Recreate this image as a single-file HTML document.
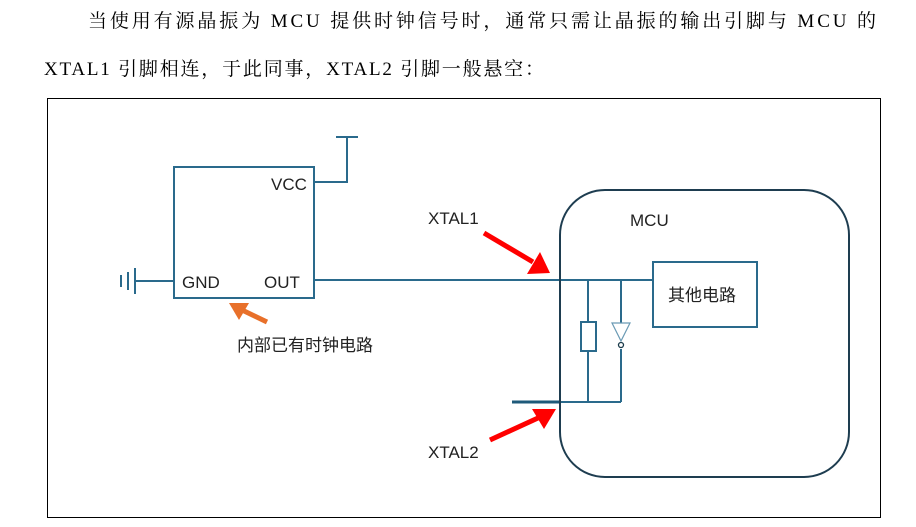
<!DOCTYPE html>
<html><head><meta charset="utf-8"><style>
html,body{margin:0;padding:0;background:#fff;width:916px;height:527px;overflow:hidden}
svg{display:block}
.s{font-family:"Liberation Serif","Noto Serif CJK SC",serif;font-size:19px;fill:#000}
.d{font-family:"Liberation Sans","Noto Sans CJK SC",sans-serif;font-size:17px;fill:#222}
</style></head><body>
<svg width="916" height="527" viewBox="0 0 916 527">
<text class="s" x="88" y="27" textLength="788" lengthAdjust="spacing">当使用有源晶振为 MCU 提供时钟信号时，通常只需让晶振的输出引脚与 MCU 的</text>
<text class="s" x="44" y="75" textLength="500" lengthAdjust="spacing">XTAL1 引脚相连，于此同事，XTAL2 引脚一般悬空：</text>
<rect x="47.5" y="98.5" width="833" height="419" fill="none" stroke="#000" stroke-width="1"/>
<g stroke="#2a6a8c" stroke-width="2" fill="none">
<rect x="174" y="167" width="140" height="131"/>
<polyline points="314,182 347,182 347,137"/>
<line x1="336" y1="137" x2="358" y2="137"/>
<line x1="135" y1="281" x2="174" y2="281"/>
<line x1="135" y1="268" x2="135" y2="294"/>
<line x1="128" y1="272" x2="128" y2="290"/>
<line x1="121" y1="275" x2="121" y2="287"/>
<line x1="314" y1="280" x2="653" y2="280"/>
<rect x="653" y="262" width="104" height="65"/>
<line x1="588" y1="280" x2="588" y2="322"/>
<rect x="581" y="322" width="15" height="29"/>
<line x1="588" y1="351" x2="588" y2="402"/>
<line x1="621" y1="280" x2="621" y2="323"/>
<line x1="621" y1="349" x2="621" y2="402"/>
<line x1="560" y1="402" x2="621" y2="402"/>
</g>
<polygon points="612,323 630,323 621,341" fill="none" stroke="#6a9ab4" stroke-width="1.2"/>
<circle cx="621" cy="345" r="2.5" fill="#fff" stroke="#1a3a4a" stroke-width="1.3"/>
<line x1="512" y1="402" x2="560" y2="402" stroke="#1e5a7a" stroke-width="3"/>
<rect x="560" y="190" width="289" height="287" rx="45" fill="none" stroke="#1e3d50" stroke-width="2"/>
<g stroke="#f00" stroke-width="5" fill="#f00">
<line x1="484" y1="233" x2="533" y2="262"/>
<line x1="490" y1="440" x2="538" y2="418"/>
</g>
<polygon points="550,273 527,274 540,252" fill="#f00"/>
<polygon points="556,409 544,429 532,409" fill="#f00"/>
<line x1="267" y1="322" x2="240" y2="309" stroke="#e8702a" stroke-width="5"/>
<polygon points="229,303 249,303 239,320" fill="#e8702a"/>
<text class="d" x="271" y="190">VCC</text>
<text class="d" x="182" y="288">GND</text>
<text class="d" x="264" y="288">OUT</text>
<text class="d" x="237" y="351">内部已有时钟电路</text>
<text class="d" x="428" y="224">XTAL1</text>
<text class="d" x="428" y="458">XTAL2</text>
<text class="d" x="630" y="226">MCU</text>
<text class="d" x="668" y="301">其他电路</text>
</svg>
</body></html>
